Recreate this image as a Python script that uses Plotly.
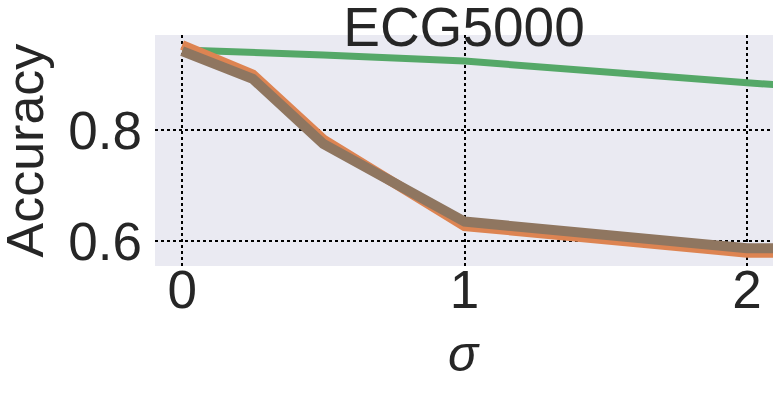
import plotly.graph_objects as go

sigma = [0, 0.25, 0.5, 1, 2, 3]
acc_green = [0.944, 0.940, 0.935, 0.924, 0.885, 0.850]
acc_orange = [0.953, 0.900, 0.783, 0.627, 0.579, 0.576]
acc_brown = [0.942, 0.892, 0.775, 0.635, 0.587, 0.586]

x_ticks = [0, 1, 2]
y_ticks = [0.6, 0.8]

REG = "Liberation Sans, Arial, sans-serif"
INK = "#262626"

fig = go.Figure()
fig.add_trace(go.Scatter(x=sigma, y=acc_green, mode="lines",
                         line=dict(color="#55A868", width=7), showlegend=False))
fig.add_trace(go.Scatter(x=sigma, y=acc_orange, mode="lines",
                         line=dict(color="#DD8452", width=10), showlegend=False))
fig.add_trace(go.Scatter(x=sigma, y=acc_brown, mode="lines",
                         line=dict(color="#8F7660", width=10), showlegend=False))

fig.update_layout(
    width=783, height=393,
    margin=dict(l=155, r=10, t=35, b=127, autoexpand=False),
    paper_bgcolor="white",
    plot_bgcolor="#EAEAF2",
    font=dict(family=REG, color=INK),
    title=dict(text="ECG5000", font=dict(size=55, family=REG, color=INK),
               x=0.5, xref="paper", xanchor="center",
               y=1 - 27 / 393, yref="container", yanchor="middle"),
    xaxis=dict(range=[-0.096, 2.092], tickvals=x_ticks, ticktext=[str(v) for v in x_ticks],
               tickfont=dict(size=53, family=REG), showgrid=True, gridcolor="black",
               griddash="dot", gridwidth=1.5, zeroline=False, showline=False,
               ticks="", automargin=False, ticklabelstandoff=-12),
    yaxis=dict(range=[0.555, 0.971], tickvals=y_ticks, ticktext=["0.6", "0.8"],
               tickfont=dict(size=53, family=REG), showgrid=True, gridcolor="black",
               griddash="dot", gridwidth=1.5, zeroline=False, showline=False,
               ticks="", automargin=False, ticklabelstandoff=12),
    annotations=[
        dict(text="Accuracy", textangle=-90, x=0, xref="paper", xanchor="center",
             xshift=-131, y=0.5, yref="paper", yanchor="middle", showarrow=False,
             font=dict(size=52, family=REG, color=INK)),
        dict(text="<i>σ</i>", x=0.5, xref="paper", xanchor="center",
             y=0, yref="paper", yanchor="middle", yshift=-88, showarrow=False,
             font=dict(size=50, family=REG, color=INK)),
    ],
)

fig.write_html("out.html", config={"displayModeBar": False},
               post_script="document.body.style.margin='0';document.body.style.overflow='hidden';")
